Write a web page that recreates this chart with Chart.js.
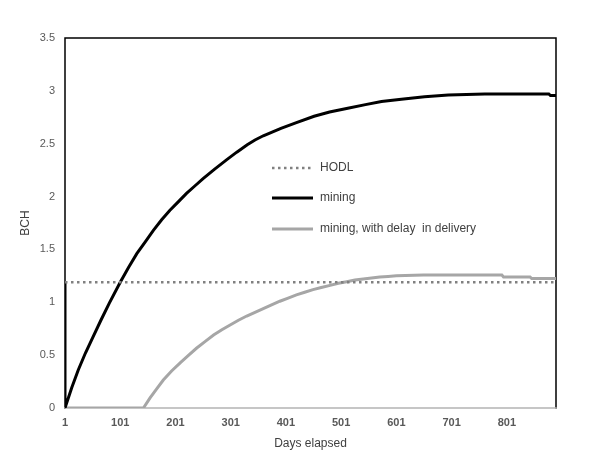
<!DOCTYPE html>
<html>
<head>
<meta charset="utf-8">
<script src="https://cdn.jsdelivr.net/npm/chart.js@4.4.1/dist/chart.umd.min.js"></script>
<style>
  html, body { margin: 0; padding: 0; background: #fff; }
  #wrap { width: 616px; height: 465px; position: relative; }
</style>
</head>
<body>
<div id="wrap"><canvas id="chart" width="616" height="465"></canvas></div>
<script>
// x tick labels (days) and y ticks (BCH)
const dayTicks = [1, 101, 201, 301, 401, 501, 601, 701, 801]
const bchTicks = [0, 0.5, 1, 1.5, 2, 2.5, 3, 3.5]

// HODL: flat line
const hodlDays = [1, 890]
const hodlBch = [1.19, 1.19]

// mining (starts by spending the held coins)
const miningDays = [1, 1, 13, 25, 38, 52, 66, 81, 101, 116, 131, 146, 161, 176, 191, 206, 221, 236, 251, 272, 294, 312, 331, 345, 360, 376, 392, 420, 452, 480, 513, 545, 574, 610, 652, 695, 761, 877, 880, 890]
const miningBch = [1.19, 0, 0.19, 0.36, 0.52, 0.675, 0.83, 0.99, 1.19, 1.33, 1.46, 1.57, 1.68, 1.78, 1.87, 1.95, 2.03, 2.1, 2.17, 2.26, 2.35, 2.42, 2.49, 2.535, 2.575, 2.61, 2.645, 2.7, 2.76, 2.8, 2.835, 2.87, 2.9, 2.92, 2.945, 2.96, 2.97, 2.97, 2.955, 2.955]

// mining, with delay in delivery
const delayDays = [1, 143, 155, 167, 179, 194, 210, 225, 239, 255, 270, 285, 300, 315, 330, 345, 360, 375, 390, 405, 420, 435, 450, 465, 481, 496, 511, 526, 541, 556, 571, 586, 601, 650, 700, 792, 795, 843, 846, 890]
const delayBch = [0, 0, 0.095, 0.18, 0.265, 0.35, 0.43, 0.5, 0.565, 0.63, 0.69, 0.74, 0.785, 0.83, 0.87, 0.905, 0.94, 0.975, 1.01, 1.04, 1.07, 1.095, 1.12, 1.14, 1.16, 1.18, 1.195, 1.21, 1.22, 1.23, 1.24, 1.245, 1.25, 1.258, 1.258, 1.258, 1.24, 1.24, 1.225, 1.225]

const toPoints = (xs, ys) => xs.map((x, i) => ({ x: x, y: ys[i] }))

const FONT = "'Liberation Sans', Arial, sans-serif"

// frame around the plot area (black left/top/right, grey bottom)
const framePlugin = {
  id: 'frame',
  beforeDatasetsDraw(chart) {
    const { ctx, chartArea: a } = chart
    ctx.save()
    ctx.lineCap = 'square'
    ctx.strokeStyle = '#000'
    ctx.lineWidth = 1.5
    ctx.beginPath()
    ctx.moveTo(a.left, a.bottom)
    ctx.lineTo(a.left, a.top)
    ctx.lineTo(a.right, a.top)
    ctx.lineTo(a.right, a.bottom)
    ctx.stroke()
    ctx.strokeStyle = '#b3b3b3'
    ctx.lineWidth = 1.5
    ctx.beginPath()
    ctx.moveTo(a.left, a.bottom)
    ctx.lineTo(a.right, a.bottom)
    ctx.stroke()
    ctx.restore()
  }
}

// legend drawn inside the plot
const legendPlugin = {
  id: 'innerLegend',
  afterDraw(chart) {
    const { ctx } = chart
    const x0 = 272, x1 = 313, tx = 320
    const rows = [168, 198, 229]
    ctx.save()
    ctx.font = '12px ' + FONT
    ctx.textBaseline = 'middle'
    chart.data.datasets.forEach((ds, i) => {
      const y = rows[i]
      ctx.strokeStyle = ds.borderColor
      ctx.lineWidth = ds.borderWidth
      ctx.setLineDash(ds.borderDash || [])
      ctx.beginPath()
      ctx.moveTo(x0, y)
      ctx.lineTo(x1, y)
      ctx.stroke()
      ctx.setLineDash([])
      ctx.fillStyle = '#404040'
      ctx.fillText(ds.label, tx, y)
    })
    ctx.restore()
  }
}

new Chart(document.getElementById('chart'), {
  type: 'line',
  data: {
    datasets: [
      {
        label: 'HODL',
        data: toPoints(hodlDays, hodlBch),
        borderColor: '#808080',
        borderWidth: 2.5,
        borderDash: [2.5, 3.5],
        pointRadius: 0
      },
      {
        label: 'mining',
        data: toPoints(miningDays, miningBch),
        borderColor: '#000000',
        borderWidth: 3,
        pointRadius: 0
      },
      {
        label: 'mining, with delay  in delivery',
        data: toPoints(delayDays, delayBch),
        borderColor: '#a6a6a6',
        borderWidth: 3,
        pointRadius: 0
      }
    ]
  },
  options: {
    responsive: false,
    animation: false,
    layout: { padding: { left: 0, top: 38, right: 60, bottom: 0 } },
    plugins: {
      legend: { display: false },
      tooltip: { enabled: false }
    },
    scales: {
      x: {
        type: 'linear',
        min: 1,
        max: 890,
        grid: { display: false },
        border: { display: false },
        afterBuildTicks: (s) => { s.ticks = dayTicks.map(v => ({ value: v })) },
        afterFit: (s) => { s.height = 57 },
        ticks: {
          color: '#595959',
          font: { family: FONT, size: 11, weight: 'bold' },
          padding: 0,
          maxRotation: 0,
          callback: (v) => String(v)
        },
        title: {
          display: true,
          text: 'Days elapsed',
          color: '#404040',
          font: { family: FONT, size: 12 },
          padding: { top: 6, bottom: 14 }
        }
      },
      y: {
        min: 0,
        max: 3.5,
        grid: { display: false },
        border: { display: false },
        afterBuildTicks: (s) => { s.ticks = bchTicks.map(v => ({ value: v })) },
        afterFit: (s) => { s.width = 65 },
        ticks: {
          color: '#595959',
          font: { family: FONT, size: 11 },
          padding: 2,
          callback: (v) => String(v)
        },
        title: {
          display: true,
          text: 'BCH',
          color: '#404040',
          font: { family: FONT, size: 12 },
          padding: { top: 18, bottom: 0 }
        }
      }
    }
  },
  plugins: [framePlugin, legendPlugin]
})
</script>
</body>
</html>
